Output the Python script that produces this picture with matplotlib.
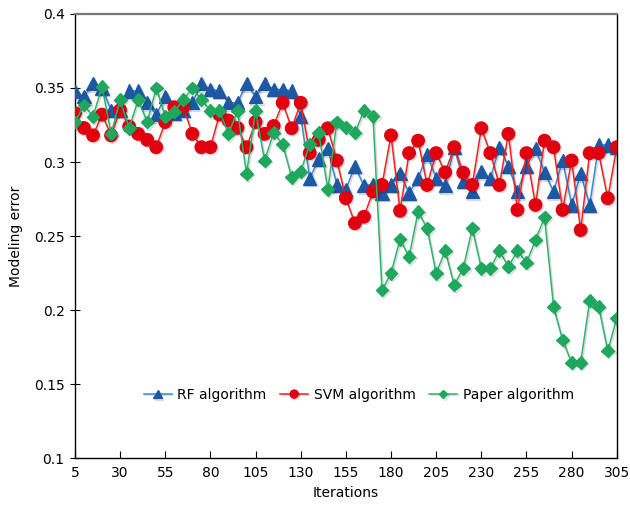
import numpy as np
import matplotlib
matplotlib.use("Agg")
import matplotlib.pyplot as plt
import matplotlib.patheffects as pe


iterations = list(range(5, 306, 5))

rf_error = [0.3475, 0.344, 0.353, 0.350, 0.335, 0.335, 0.348, 0.348, 0.340, 0.332,
            0.344, 0.333, 0.335, 0.340, 0.353, 0.349, 0.348, 0.340, 0.340, 0.353,
            0.344, 0.353, 0.349, 0.349, 0.348, 0.331, 0.289, 0.302, 0.309, 0.2845,
            0.2815, 0.297, 0.284, 0.285, 0.279, 0.2845, 0.292, 0.279, 0.289, 0.305,
            0.289, 0.284, 0.310, 0.287, 0.280, 0.2935, 0.289, 0.310, 0.297, 0.280,
            0.297, 0.309, 0.2928, 0.280, 0.301, 0.271, 0.292, 0.271, 0.3115, 0.3115,
            0.310]

svm_error = [0.333, 0.323, 0.318, 0.332, 0.318, 0.335, 0.324, 0.319, 0.315, 0.310,
             0.327, 0.337, 0.337, 0.319, 0.310, 0.310, 0.332, 0.328, 0.323, 0.310,
             0.327, 0.319, 0.3243, 0.340, 0.3228, 0.340, 0.306, 0.315, 0.3228, 0.301,
             0.2755, 0.2586, 0.263, 0.280, 0.2845, 0.318, 0.267, 0.306, 0.3144, 0.2845,
             0.306, 0.293, 0.310, 0.2928, 0.2845, 0.3228, 0.306, 0.2845, 0.319, 0.2676,
             0.306, 0.271, 0.3144, 0.310, 0.2676, 0.301, 0.254, 0.306, 0.306, 0.2755,
             0.310]

paper_error = [0.327, 0.3385, 0.3306, 0.351, 0.319, 0.342, 0.3228, 0.342, 0.327, 0.350,
               0.3306, 0.334, 0.342, 0.350, 0.342, 0.3346, 0.3346, 0.319, 0.3346, 0.292,
               0.3346, 0.301, 0.3198, 0.312, 0.2897, 0.2935, 0.312, 0.3198, 0.2815, 0.327,
               0.3234, 0.3198, 0.3346, 0.331, 0.2135, 0.2248, 0.2478, 0.236, 0.2664, 0.2552,
               0.2248, 0.240, 0.2169, 0.2282, 0.2552, 0.2282, 0.2282, 0.240, 0.2293, 0.240,
               0.232, 0.2473, 0.2626, 0.2022, 0.1797, 0.1644, 0.1644, 0.2063, 0.2022, 0.1725,
               0.1944]

labels = ["RF algorithm", "SVM algorithm", "Paper algorithm"]
xticks = list(range(5, 306, 25))
yticks = [0.1, 0.15, 0.2, 0.25, 0.3, 0.35, 0.4]
ytick_labels = ["0.1", "0.15", "0.2", "0.25", "0.3", "0.35", "0.4"]


fig = plt.figure(figsize=(6.3, 5.07), dpi=100)
ax1 = fig.add_axes([0.119, 0.0966, 0.86, 0.8758])

# soft drop shadow like the original spreadsheet chart
shadow = [pe.SimpleLineShadow(offset=(1.0, -1.0), alpha=0.15, shadow_color="black"), pe.Normal()]

ax1.plot(iterations, rf_error, color="#3A86D6", lw=1.1, marker="^", markersize=9.5,
         markerfacecolor="#1D58A4", markeredgecolor="#1D58A4", label=labels[0],
         path_effects=shadow, zorder=3)
ax1.plot(iterations, svm_error, color="#F02020", lw=1.1, marker="o", markersize=9,
         markerfacecolor="#E00010", markeredgecolor="#E00010", label=labels[1],
         path_effects=shadow, zorder=4)
ax1.plot(iterations, paper_error, color="#2DB36B", lw=1.1, marker="D", markersize=6.5,
         markerfacecolor="#1FA75E", markeredgecolor="#1FA75E", label=labels[2],
         path_effects=shadow, zorder=5)

ax1.set_xlim(5, 305)
ax1.set_ylim(0.1, 0.4)
ax1.set_xticks(xticks)
ax1.set_yticks(yticks)
ax1.set_yticklabels(ytick_labels)
ax1.tick_params(axis="x", direction="in", length=5, labelsize=10, pad=6, color="black")
ax1.tick_params(axis="y", direction="inout", length=7, labelsize=10, pad=4, color="black")

for side in ["left", "bottom", "right"]:
    ax1.spines[side].set_color("black")
    ax1.spines[side].set_linewidth(1.0)
ax1.spines["top"].set_color("#777777")
ax1.spines["top"].set_linewidth(1.6)

ax1.set_xlabel("Iterations", fontsize=10, labelpad=4)
ax1.set_ylabel("Modeling error", fontsize=10, labelpad=8)

leg = ax1.legend(loc="center", bbox_to_anchor=(0.524, 0.142), ncol=3, frameon=False,
                 fontsize=10, markerscale=0.65, handlelength=2.0, columnspacing=1.0,
                 handletextpad=0.4)

fig.savefig("out.png", dpi=100)
plt.close(fig)
